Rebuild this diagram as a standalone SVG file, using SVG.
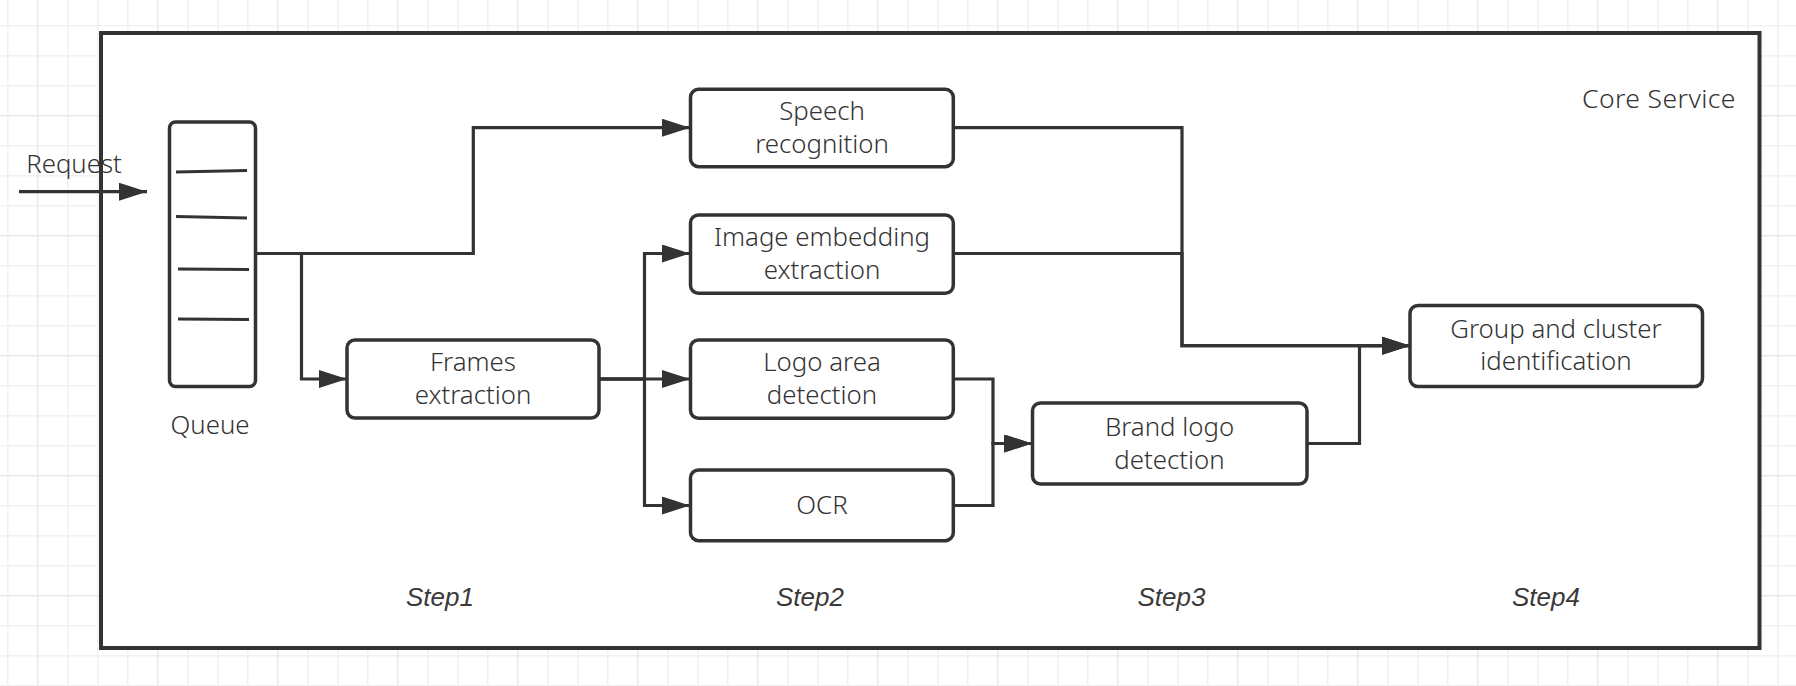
<svg xmlns="http://www.w3.org/2000/svg" width="1796" height="686" viewBox="0 0 1796 686">
<style>
.box{fill:#fff;stroke:#333;stroke-width:3.5}
.lbl{font-family:"Noto Sans","Liberation Sans",sans-serif;font-size:25.8px;font-weight:300;fill:#333;text-anchor:middle}
.step{font-family:"Liberation Sans",Arial,sans-serif;font-size:26px;font-weight:400;font-style:italic;fill:#3a3a3a;text-anchor:middle}
.conn{fill:none;stroke:#333;stroke-width:3.2}
.ql{stroke:#333;stroke-width:3.2}
</style>
<defs>
<pattern id="grid" x="7" y="25" width="120" height="120" patternUnits="userSpaceOnUse">
<rect width="120" height="120" fill="#fff"/>
<g fill="#f1f1f1">
<rect x="0" y="0" width="1.5" height="120"/>
<rect x="60" y="0" width="1.5" height="120"/>
<rect x="90" y="0" width="1.5" height="120"/>
<rect x="0" y="0" width="120" height="1.5"/>
<rect x="0" y="30" width="120" height="1.5"/>
<rect x="0" y="60" width="120" height="1.5"/>
</g>
<g fill="#e9e9e9">
<rect x="30" y="0" width="1.5" height="120"/>
<rect x="0" y="90" width="120" height="1.5"/>
</g>
</pattern>
<marker id="arr" viewBox="0 0 28 18" refX="28" refY="9" markerWidth="28" markerHeight="18" markerUnits="userSpaceOnUse" orient="auto">
<path d="M0,0 L28,9 L0,18 z" fill="#333"/>
</marker>
</defs>
<rect width="1796" height="686" fill="url(#grid)"/>
<g id="core-service">
<rect x="101" y="33" width="1658.5" height="615" fill="#fff" stroke="#333" stroke-width="4"/>
<text class="lbl" x="1735.5" y="107.7" style="text-anchor:end;font-size:26.5px" textLength="153.5">Core Service</text>
</g>
<g id="connectors">
<path class="conn" d="M19,191.7 H147" marker-end="url(#arr)"/>
<path class="conn" d="M255.5,253.5 H473.3 V127.7 H690" marker-end="url(#arr)"/>
<path class="conn" d="M301.5,253.5 V379 H347" marker-end="url(#arr)"/>
<path class="conn" d="M599,379 H644.5 V253.5 H690" marker-end="url(#arr)"/>
<path class="conn" d="M599,379 H690" marker-end="url(#arr)"/>
<path class="conn" d="M599,379 H644.5 V505.5 H690" marker-end="url(#arr)"/>
<path class="conn" d="M953,127.7 H1182 V345.7 H1410" marker-end="url(#arr)"/>
<path class="conn" d="M953,253.5 H1182 V345.7 H1410" marker-end="url(#arr)"/>
<path class="conn" d="M953,379 H993 V443.5 H1032" marker-end="url(#arr)"/>
<path class="conn" d="M953,505.5 H993 V443.5 H1032" marker-end="url(#arr)"/>
<path class="conn" d="M1307,443.5 H1359.5 V345.7 H1410" marker-end="url(#arr)"/>
</g>
<g id="request">
<text class="lbl" x="74" y="173.3">Request</text>
</g>
<g id="queue">
<rect class="box" x="169.5" y="122" width="86" height="264.5" rx="6"/>
<line class="ql" x1="176" y1="172" x2="247" y2="170.5"/>
<line class="ql" x1="176" y1="216.5" x2="247" y2="218"/>
<line class="ql" x1="178" y1="269" x2="249" y2="269.5"/>
<line class="ql" x1="178" y1="319" x2="249" y2="319.5"/>
<text class="lbl" x="210" y="434">Queue</text>
</g>
<g id="frames">
<rect class="box" x="347" y="340" width="252" height="78" rx="8"/>
<text class="lbl"><tspan x="473" y="371">Frames</tspan><tspan x="473" y="403.5">extraction</tspan></text>
</g>
<g id="speech">
<rect class="box" x="690.5" y="89.3" width="262.8" height="77.4" rx="8"/>
<text class="lbl"><tspan x="822" y="120">Speech</tspan><tspan x="822" y="152.5">recognition</tspan></text>
</g>
<g id="image-embedding">
<rect class="box" x="690.5" y="215" width="262.8" height="78.3" rx="8"/>
<text class="lbl"><tspan x="822" y="246">Image embedding</tspan><tspan x="822" y="278.5">extraction</tspan></text>
</g>
<g id="logo-area">
<rect class="box" x="690.5" y="340" width="262.8" height="78.3" rx="8"/>
<text class="lbl"><tspan x="822" y="371">Logo area</tspan><tspan x="822" y="403.5">detection</tspan></text>
</g>
<g id="ocr">
<rect class="box" x="690.5" y="470" width="262.8" height="70.7" rx="8"/>
<text class="lbl" x="822" y="513.5">OCR</text>
</g>
<g id="brand-logo">
<rect class="box" x="1032.5" y="403" width="274.5" height="81" rx="8"/>
<text class="lbl"><tspan x="1169.5" y="435.5">Brand logo</tspan><tspan x="1169.5" y="468.5">detection</tspan></text>
</g>
<g id="group-cluster">
<rect class="box" x="1410" y="305.5" width="292.5" height="81" rx="8"/>
<text class="lbl"><tspan x="1556" y="337.5">Group and cluster</tspan><tspan x="1556" y="370">identification</tspan></text>
</g>
<g id="steps">
<text class="step" x="440" y="606">Step1</text>
<text class="step" x="810" y="606">Step2</text>
<text class="step" x="1171.5" y="606">Step3</text>
<text class="step" x="1546" y="606">Step4</text>
</g>
</svg>
